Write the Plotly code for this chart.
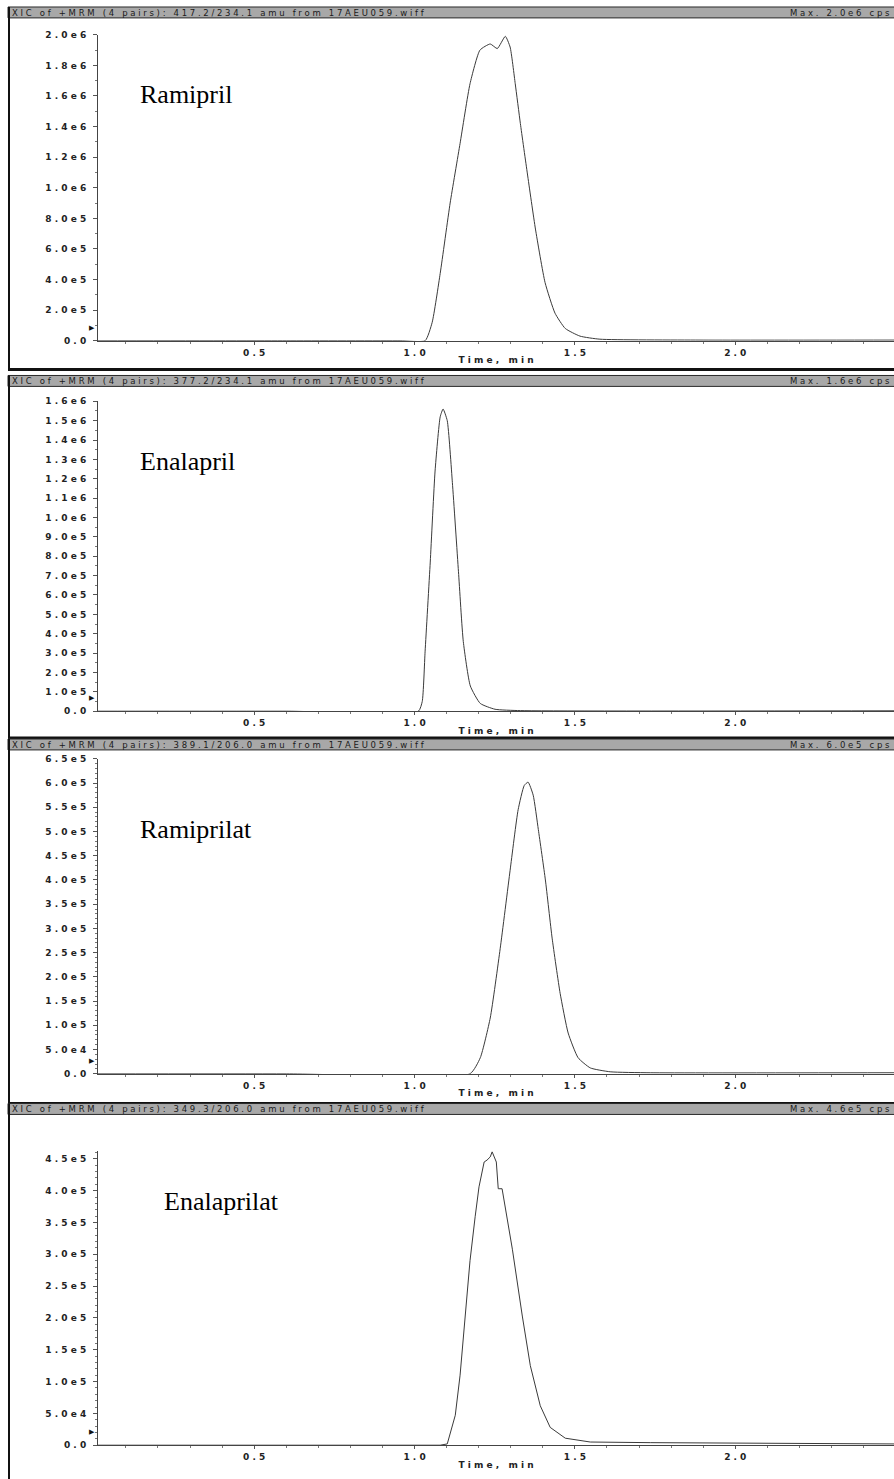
import plotly.graph_objects as go

W, H = 894, 1479

# ---------------- data ----------------
names = ["Ramipril", "Enalapril", "Ramiprilat", "Enalaprilat"]
headers = [
    "XIC of +MRM (4 pairs): 417.2/234.1 amu from 17AEU059.wiff",
    "XIC of +MRM (4 pairs): 377.2/234.1 amu from 17AEU059.wiff",
    "XIC of +MRM (4 pairs): 389.1/206.0 amu from 17AEU059.wiff",
    "XIC of +MRM (4 pairs): 349.3/206.0 amu from 17AEU059.wiff",
]
max_labels = ["Max. 2.0e6 cps", "Max. 1.6e6 cps", "Max. 6.0e5 cps", "Max. 4.6e5 cps"]

ramipril_t = [0.013, 0.60, 0.955, 1.033, 1.055, 1.080, 1.111, 1.142, 1.173, 1.204, 1.236,
              1.258, 1.283, 1.298, 1.314, 1.330, 1.352, 1.377, 1.407, 1.438, 1.470, 1.516,
              1.578, 1.89, 2.495]
ramipril_i = [0, 0, 0, 0, 0.12e6, 0.44e6, 0.90e6, 1.29e6, 1.68e6, 1.90e6, 1.94e6,
              1.91e6, 1.99e6, 1.92e6, 1.68e6, 1.42e6, 1.09e6, 0.73e6, 0.38e6, 0.18e6, 0.08e6, 0.03e6,
              0.01e6, 0.004e6, 0.004e6]

enalapril_t = [0.013, 0.60, 1.012, 1.024, 1.033, 1.049, 1.064, 1.080, 1.089, 1.102, 1.118,
               1.137, 1.152, 1.174, 1.205, 1.251, 1.33, 2.495]
enalapril_i = [0, 0, 0, 0.05e6, 0.31e6, 0.77e6, 1.24e6, 1.52e6, 1.56e6, 1.50e6, 1.18e6,
               0.72e6, 0.36e6, 0.13e6, 0.04e6, 0.01e6, 0.003e6, 0.002e6]

ramiprilat_t = [0.013, 0.60, 1.173, 1.205, 1.236, 1.267, 1.298, 1.323, 1.342, 1.354, 1.370,
                1.386, 1.408, 1.429, 1.454, 1.479, 1.510, 1.548, 1.610, 1.735, 2.495]
ramiprilat_i = [0, 0, 0, 0.33e5, 1.15e5, 2.58e5, 4.20e5, 5.45e5, 5.95e5, 6.02e5, 5.75e5,
                5.04e5, 4.00e5, 2.80e5, 1.66e5, 0.84e5, 0.33e5, 0.12e5, 0.04e5, 0.02e5, 0.02e5]

enalaprilat_t = [0.013, 0.60, 1.080, 1.102, 1.127, 1.142, 1.158, 1.173, 1.189, 1.201, 1.217,
                 1.226, 1.236, 1.242, 1.255, 1.261, 1.273, 1.305, 1.336, 1.361, 1.392, 1.423,
                 1.470, 1.548, 1.735, 2.05, 2.495]
enalaprilat_i = [0, 0, 0, 0.02e5, 0.47e5, 1.10e5, 2.03e5, 2.90e5, 3.59e5, 4.06e5, 4.45e5,
                 4.48e5, 4.53e5, 4.61e5, 4.45e5, 4.03e5, 4.03e5, 3.08e5, 2.03e5, 1.25e5, 0.62e5, 0.28e5,
                 0.11e5, 0.05e5, 0.04e5, 0.03e5, 0.02e5]

series_t = [ramipril_t, enalapril_t, ramiprilat_t, enalaprilat_t]
series_i = [ramipril_i, enalapril_i, ramiprilat_i, enalaprilat_i]
line_shapes = ["spline", "spline", "spline", "linear"]

y_tickvals = [
    [0, 2e5, 4e5, 6e5, 8e5, 1.0e6, 1.2e6, 1.4e6, 1.6e6, 1.8e6, 2.0e6],
    [0, 1e5, 2e5, 3e5, 4e5, 5e5, 6e5, 7e5, 8e5, 9e5, 1.0e6, 1.1e6, 1.2e6, 1.3e6, 1.4e6, 1.5e6, 1.6e6],
    [0, 5e4, 1e5, 1.5e5, 2e5, 2.5e5, 3e5, 3.5e5, 4e5, 4.5e5, 5e5, 5.5e5, 6e5, 6.5e5],
    [0, 5e4, 1e5, 1.5e5, 2e5, 2.5e5, 3e5, 3.5e5, 4e5, 4.5e5],
]
y_ticktext = [
    ["0.0", "2.0e5", "4.0e5", "6.0e5", "8.0e5", "1.0e6", "1.2e6", "1.4e6", "1.6e6", "1.8e6", "2.0e6"],
    ["0.0", "1.0e5", "2.0e5", "3.0e5", "4.0e5", "5.0e5", "6.0e5", "7.0e5", "8.0e5", "9.0e5",
     "1.0e6", "1.1e6", "1.2e6", "1.3e6", "1.4e6", "1.5e6", "1.6e6"],
    ["0.0", "5.0e4", "1.0e5", "1.5e5", "2.0e5", "2.5e5", "3.0e5", "3.5e5", "4.0e5", "4.5e5",
     "5.0e5", "5.5e5", "6.0e5", "6.5e5"],
    ["0.0", "5.0e4", "1.0e5", "1.5e5", "2.0e5", "2.5e5", "3.0e5", "3.5e5", "4.0e5", "4.5e5"],
]
y_minor = [1e5, 5e4, 1e4, 1e4]
y_top = [2.0e6, 1.6e6, 6.5e5, 4.62e5]
baseline_mark = [0.084e6, 0.072e6, 0.27e5, 0.22e5]

x_tickvals = [0.5, 1.0, 1.5, 2.0]
x_ticktext = ["0.5", "1.0", "1.5", "2.0"]
x_range = [0.013, 2.495]

# ---------------- layout geometry (pixels) ----------------
box_top = [2, 373, 739, 1106]
box_bot = [367, 738, 1106, 1500]
plot_top = [30, 399, 759, 1154]
plot_bot = [338, 711, 1076, 1450]
name_pos = [(138, 90), (138, 460), (138, 830), (162, 1205)]
AX_X = 98


def spaced(s):
    return " ".join(s.replace(" ", "\u00a0"))


def px(x):
    return x / W


def py(y):
    return 1 - y / H


fig = go.Figure()
shapes = []
annotations = []
tick_font = dict(family="DejaVu Sans", size=9, color="#222", weight="bold")
head_font = dict(family="DejaVu Sans", size=8.5, color="#1a1a1a")

for k in range(4):
    n = "" if k == 0 else str(k + 1)
    fig.add_trace(go.Scatter(
        x=series_t[k], y=series_i[k], mode="lines",
        line=dict(color="#3a3a3a", width=1, shape=line_shapes[k], smoothing=0.5),
        xaxis="x" + n, yaxis="y" + n, showlegend=False, hoverinfo="skip"))

    fig.layout["xaxis" + n] = dict(
        domain=[px(AX_X), 1.0], anchor="y" + n, range=x_range,
        tickvals=x_tickvals, ticktext=[spaced(t) for t in x_ticktext],
        ticks="outside", ticklen=3, tickcolor="#555", tickfont=tick_font,
        minor=dict(dtick=0.1, tick0=0, ticks="outside", ticklen=2, tickcolor="#777"),
        showline=True, linecolor="#444", linewidth=1, showgrid=False, zeroline=False,
        title=dict(text=spaced("Time, min"), font=tick_font, standoff=0),
        fixedrange=True)
    fig.layout["yaxis" + n] = dict(
        domain=[py(plot_bot[k]), py(plot_top[k])], anchor="x" + n, range=[0, y_top[k]],
        tickvals=y_tickvals[k], ticktext=[spaced(t) for t in y_ticktext[k]],
        ticks="outside", ticklen=4, tickcolor="#555", tickfont=tick_font,
        ticklabelstandoff=5,
        minor=dict(dtick=y_minor[k], tick0=0, ticks="outside", ticklen=2, tickcolor="#777"),
        showline=True, linecolor="#444", linewidth=1, showgrid=False, zeroline=False,
        fixedrange=True)

    # header bar
    shapes.append(dict(type="rect", xref="paper", yref="paper",
                       x0=px(8), x1=px(900), y0=py(box_top[k] + 11), y1=py(box_top[k]),
                       fillcolor="#a8a8a8", line=dict(color="#2a2a2a", width=1)))
    # panel border (left & bottom)
    shapes.append(dict(type="line", xref="paper", yref="paper",
                       x0=px(9), x1=px(9), y0=py(box_bot[k]), y1=py(box_top[k]),
                       line=dict(color="#111", width=2)))
    shapes.append(dict(type="line", xref="paper", yref="paper",
                       x0=px(8), x1=1.0, y0=py(box_bot[k]), y1=py(box_bot[k]),
                       line=dict(color="#111", width=3)))

    annotations.append(dict(xref="paper", yref="paper", x=px(10), y=py(box_top[k] + 6),
                            xanchor="left", yanchor="middle", showarrow=False,
                            text=spaced(headers[k]), font=head_font))
    annotations.append(dict(xref="paper", yref="paper", x=px(788), y=py(box_top[k] + 6),
                            xanchor="left", yanchor="middle", showarrow=False,
                            text=spaced(max_labels[k]), font=head_font))
    annotations.append(dict(xref="paper", yref="paper", x=px(name_pos[k][0]), y=py(name_pos[k][1]),
                            xanchor="left", yanchor="middle", showarrow=False,
                            text=names[k],
                            font=dict(family="Liberation Serif", size=26, color="#000")))
    annotations.append(dict(xref="paper", yref="y" + n, x=px(AX_X - 1), y=baseline_mark[k],
                            xanchor="right", yanchor="middle", showarrow=False,
                            text="\u25B6", font=dict(size=7, color="#111")))

fig.update_layout(
    width=W, height=H, margin=dict(l=0, r=0, t=0, b=0),
    paper_bgcolor="white", plot_bgcolor="white",
    shapes=shapes, annotations=annotations, showlegend=False)

fig.write_html("out.html")
